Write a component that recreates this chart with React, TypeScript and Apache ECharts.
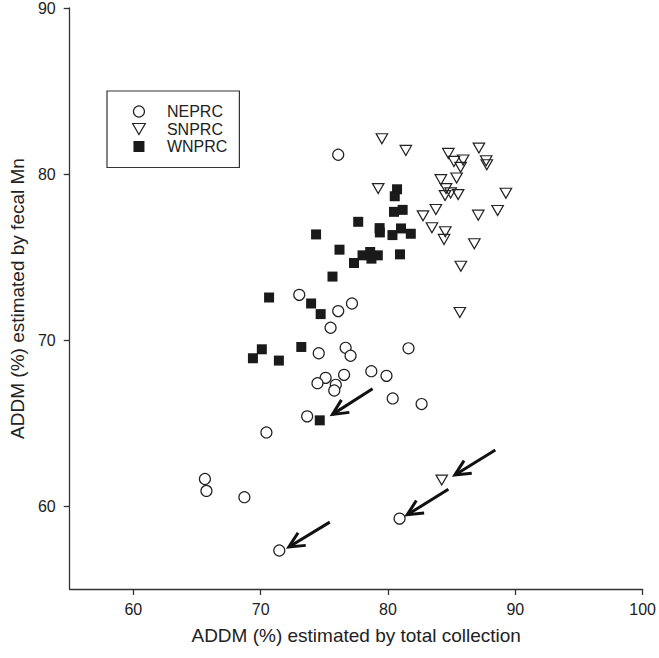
import React, { useEffect, useRef } from "react";
import * as echarts from "echarts";

const X_TICKS = [60, 70, 80, 90, 100];
const Y_TICKS = [60, 70, 80, 90];
const X_TITLE = "ADDM (%) estimated by total collection";
const Y_TITLE = "ADDM (%) estimated by fecal Mn";

const NEPRC = [
  [76.09, 81.16], [73.03, 72.72], [76.09, 71.74], [77.17, 72.2], [75.49, 70.74],
  [74.56, 69.2], [76.67, 69.53], [77.06, 69.05], [81.61, 69.5], [78.69, 68.12],
  [79.88, 67.84], [76.55, 67.9], [75.1, 67.72], [74.46, 67.4], [75.9, 67.3],
  [75.78, 66.96], [80.37, 66.48], [82.64, 66.14], [73.65, 65.4], [70.45, 64.43],
  [65.62, 61.63], [65.74, 60.91], [68.72, 60.53], [80.91, 59.24], [71.46, 57.32],
];

const SNPRC = [
  [79.52, 82.12], [81.4, 81.42], [79.23, 79.12], [82.75, 77.48], [87.14, 81.56],
  [84.74, 81.24], [85.18, 80.76], [85.9, 80.84], [85.7, 80.4], [87.71, 80.8],
  [87.76, 80.56], [84.15, 79.66], [85.39, 79.76], [84.56, 79.12], [84.92, 78.86],
  [84.48, 78.7], [85.51, 78.76], [89.26, 78.84], [88.61, 77.8], [83.76, 77.86],
  [87.09, 77.52], [83.45, 76.76], [84.5, 76.52], [84.4, 76.06], [86.78, 75.8],
  [85.72, 74.44], [85.64, 71.66], [84.22, 61.56],
];

const WNPRC = [
  [80.71, 79.08], [80.53, 78.66], [80.47, 77.72], [81.15, 77.84], [77.66, 77.12],
  [79.34, 76.74], [79.36, 76.48], [81.02, 76.72], [81.79, 76.4], [80.35, 76.32],
  [74.35, 76.36], [76.19, 75.44], [77.33, 74.64], [75.64, 73.82], [78.0, 75.1],
  [78.6, 75.3], [78.7, 74.9], [79.2, 75.1], [80.94, 75.16], [70.66, 72.56],
  [73.96, 72.2], [74.71, 71.56], [70.09, 69.44], [69.39, 68.9], [71.43, 68.76],
  [73.19, 69.58], [74.64, 65.16],
];

// arrows: [fromX, fromY, toX, toY]
const ARROWS = [
  [78.79, 67.06, 75.64, 65.52],
  [84.74, 61.01, 81.51, 59.47],
  [75.43, 59.03, 72.21, 57.53],
  [88.43, 63.37, 85.25, 61.87],
];

const FONT = "'Liberation Sans', Arial, Helvetica, sans-serif";
const INK = "#222";
const TRI = "path://M0,0 L10,0 L5,8.66 Z";
const SQR = "path://M0,0 L10,0 L10,10 L0,10 Z";

export default function App() {
  const ref = useRef<HTMLDivElement>(null);

  useEffect(() => {
    if (!ref.current) return;
    const chart = echarts.init(ref.current, null, { renderer: "svg" });

    const axisCommon = {
      type: "value" as const,
      nameLocation: "middle" as const,
      nameTextStyle: { fontSize: 19, color: INK, fontFamily: FONT },
      axisLine: { show: true, onZero: false, lineStyle: { color: "#333", width: 1.3 } },
      axisTick: { show: true, inside: false, length: 6, lineStyle: { color: "#333", width: 1.3 } },
      splitLine: { show: false },
    };

    chart.setOption({
      animation: false,
      backgroundColor: "#fff",
      textStyle: { fontFamily: FONT },
      grid: { left: 65, right: 14, top: 6, bottom: 69, containLabel: false },
      xAxis: {
        ...axisCommon,
        min: 55,
        max: 100,
        name: X_TITLE,
        nameGap: 37,
        axisTick: { ...axisCommon.axisTick, customValues: X_TICKS },
        axisLabel: { customValues: X_TICKS, fontSize: 16, color: INK, margin: 12, fontFamily: FONT },
      },
      yAxis: {
        ...axisCommon,
        min: 55,
        max: 90,
        name: Y_TITLE,
        nameGap: 42,
        axisTick: { ...axisCommon.axisTick, customValues: Y_TICKS },
        axisLabel: { customValues: Y_TICKS, fontSize: 16, color: INK, margin: 14, fontFamily: FONT },
      },
      legend: {
        orient: "vertical",
        left: 107,
        top: 91,
        padding: [12.5, 12, 13, 25],
        itemWidth: 46,
        itemHeight: 11,
        itemGap: 1.5,
        borderColor: "#333",
        borderWidth: 1.2,
        textStyle: { fontSize: 16, color: INK, fontFamily: FONT },
        data: [
          { name: "NEPRC", icon: "circle", itemStyle: { color: "#fff", borderColor: INK, borderWidth: 1.2 } },
          { name: "SNPRC", icon: TRI, itemStyle: { color: "#fff", borderColor: INK, borderWidth: 1.2 } },
          { name: "WNPRC", icon: SQR, itemStyle: { color: "#1a1a1a", borderWidth: 0 } },
        ],
      },
      series: [
        {
          name: "NEPRC",
          type: "scatter",
          data: NEPRC,
          symbol: "circle",
          symbolSize: 11,
          itemStyle: { color: "#fff", borderColor: INK, borderWidth: 1.2, opacity: 1 },
          z: 3,
        },
        {
          name: "SNPRC",
          type: "scatter",
          data: SNPRC,
          symbol: TRI,
          symbolSize: [11.5, 10],
          itemStyle: { color: "rgba(255,255,255,0)", borderColor: INK, borderWidth: 1.2, opacity: 1 },
          z: 3,
        },
        {
          name: "WNPRC",
          type: "scatter",
          data: WNPRC,
          symbol: SQR,
          symbolSize: 10,
          itemStyle: { color: "#1a1a1a", opacity: 1 },
          z: 3,
        },
        {
          name: "arrows",
          type: "custom",
          data: ARROWS,
          encode: { x: [0, 2], y: [1, 3] },
          silent: true,
          z: 4,
          renderItem: (params: any, api: any) => {
            const p0 = api.coord([api.value(0), api.value(1)]);
            const p1 = api.coord([api.value(2), api.value(3)]);
            const ang = Math.atan2(p1[1] - p0[1], p1[0] - p0[0]);
            const L = 17;
            const spread = 0.45;
            const a = [p1[0] - L * Math.cos(ang - spread), p1[1] - L * Math.sin(ang - spread)];
            const b = [p1[0] - L * Math.cos(ang + spread), p1[1] - L * Math.sin(ang + spread)];
            return {
              type: "group",
              children: [
                {
                  type: "line",
                  shape: { x1: p0[0], y1: p0[1], x2: p1[0], y2: p1[1] },
                  style: { stroke: "#111", lineWidth: 3 },
                },
                {
                  type: "polyline",
                  shape: { points: [a, p1, b] },
                  style: { stroke: "#111", lineWidth: 3, fill: null, lineJoin: "miter" },
                },
              ],
            };
          },
        },
      ],
    });

    return () => chart.dispose();
  }, []);

  return (
    <div
      ref={ref}
      style={{ position: "fixed", left: 0, top: 0, width: 659, height: 658, background: "#fff" }}
    />
  );
}
